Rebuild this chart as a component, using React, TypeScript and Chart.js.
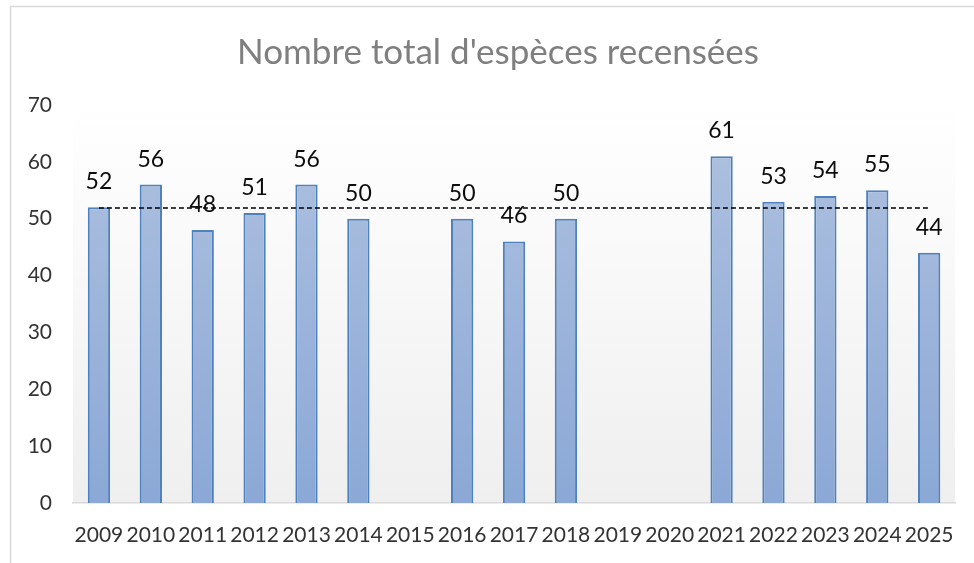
import React, { useEffect, useRef } from "react";
import { Chart, registerables } from "chart.js";

Chart.register(...registerables);

const categories = ["2009","2010","2011","2012","2013","2014","2015","2016","2017","2018","2019","2020","2021","2022","2023","2024","2025"];
const speciesCounts: (number | null)[] = [52,56,48,51,56,50,null,50,46,50,null,null,61,53,54,55,44];
const averageLine = [51.9,51.9,51.9,51.9,51.9,51.9,51.9,51.9,51.9,51.9,51.9,51.9,51.9,51.9,51.9,51.9,51.9];
const yTicks = [0,10,20,30,40,50,60,70];
const titleText = "Nombre total d'espèces recensées";

const FONT = "Lato, 'Open Sans', sans-serif";

const framePlugin = {
  id: "frameAndBg",
  beforeDraw(chart: any) {
    const { ctx, chartArea } = chart;
    ctx.save();
    ctx.fillStyle = "#ffffff";
    ctx.fillRect(0, 0, chart.width, chart.height);
    ctx.strokeStyle = "#d9d9d9";
    ctx.lineWidth = 1.5;
    ctx.strokeRect(10.5, 6.5, chart.width + 20, chart.height + 20);
    const g = ctx.createLinearGradient(0, chartArea.top, 0, chartArea.bottom);
    g.addColorStop(0, "#ffffff");
    g.addColorStop(1, "#efefef");
    ctx.fillStyle = g;
    ctx.fillRect(chartArea.left, chartArea.top, chartArea.right - chartArea.left, chartArea.bottom - chartArea.top);
    ctx.fillStyle = "#7f7f7f";
    ctx.font = `35px ${FONT}`;
    ctx.textAlign = "center";
    ctx.textBaseline = "alphabetic";
    ctx.fillText(titleText, 498, 64);
    ctx.restore();
  },
};

const labelPlugin = {
  id: "barLabels",
  afterDatasetsDraw(chart: any) {
    const { ctx } = chart;
    const meta = chart.getDatasetMeta(0);
    ctx.save();
    ctx.fillStyle = "#0d0d0d";
    ctx.font = `23px ${FONT}`;
    ctx.textAlign = "center";
    ctx.textBaseline = "alphabetic";
    meta.data.forEach((el: any, i: number) => {
      const v = speciesCounts[i];
      if (v === null || v === undefined) return;
      ctx.fillText(String(v), el.x, el.y - 18);
    });
    ctx.restore();
  },
};

export default function App() {
  const ref = useRef<HTMLCanvasElement>(null);
  useEffect(() => {
    if (!ref.current) return;
    const ctx = ref.current.getContext("2d")!;
    const chart = new Chart(ctx, {
      type: "bar",
      data: {
        labels: categories,
        datasets: [
          {
            type: "bar",
            data: speciesCounts,
            backgroundColor: (c: any) => {
              const area = c.chart.chartArea;
              if (!area) return "#9fb5da";
              const g = c.chart.ctx.createLinearGradient(0, area.top, 0, area.bottom);
              g.addColorStop(0, "#b0c2e0");
              g.addColorStop(1, "#8ba8d6");
              return g;
            },
            borderColor: "#4f81bd",
            borderWidth: 2,
            barPercentage: 0.43,
            categoryPercentage: 1,
            order: 2,
          },
          {
            type: "line",
            data: averageLine,
            borderColor: "#000000",
            borderWidth: 1.5,
            borderDash: [5, 3],
            pointRadius: 0,
            fill: false,
            order: 1,
          } as any,
        ],
      },
      options: {
        responsive: false,
        animation: false,
        layout: { padding: { left: 0, right: 17, top: 105, bottom: 0 } },
        plugins: {
          legend: { display: false },
          title: { display: false },
          tooltip: { enabled: false },
        },
        scales: {
          x: {
            grid: { display: false, drawTicks: false },
            border: { display: true, color: "#d9d9d9", width: 1.5 },
            ticks: { color: "#333333", font: { family: FONT, size: 21 }, padding: 20, maxRotation: 0, autoSkip: false },
            afterFit: (s: any) => { s.height = 60; },
          },
          y: {
            min: 0,
            max: 70,
            afterBuildTicks: (s: any) => { s.ticks = yTicks.map((v) => ({ value: v })); },
            grid: { display: false, drawTicks: false },
            border: { display: false },
            ticks: { color: "#333333", font: { family: FONT, size: 21 }, padding: 21 },
            afterFit: (s: any) => { s.width = 73; },
          },
        },
      },
      plugins: [framePlugin, labelPlugin],
    });
    return () => chart.destroy();
  }, []);
  return (
    <div style={{ position: "fixed", left: 0, top: 0, width: 974, height: 563 }}>
      <canvas ref={ref} width={974} height={563} style={{ display: "block" }} />
    </div>
  );
}
